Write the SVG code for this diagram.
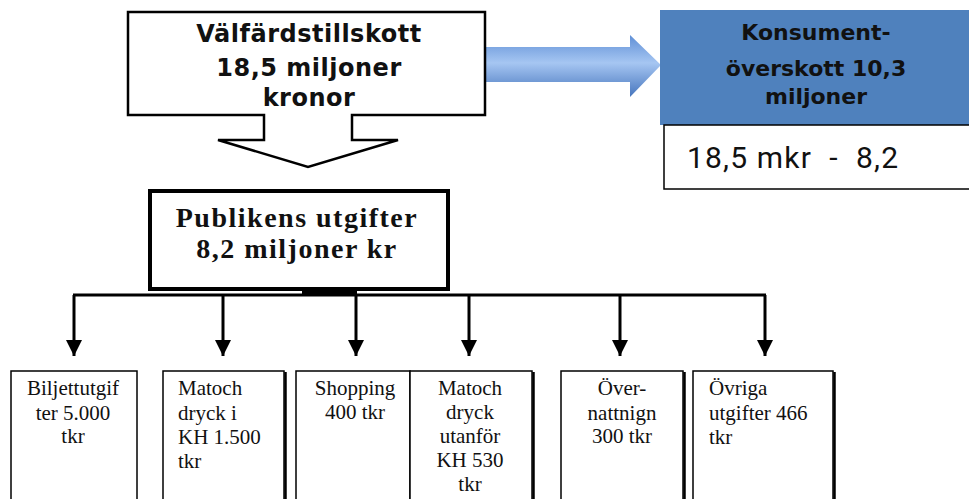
<svg xmlns="http://www.w3.org/2000/svg" width="969" height="499" viewBox="0 0 969 499">
<defs>
<linearGradient id="blueArrow" x1="0" y1="0" x2="0" y2="1">
<stop offset="0" stop-color="#5f8fd6"/>
<stop offset="0.45" stop-color="#a6c6f2"/>
<stop offset="1" stop-color="#4675bd"/>
</linearGradient>
<marker id="ah" markerUnits="userSpaceOnUse" markerWidth="16" markerHeight="16" viewBox="0 0 16 16" refX="8" refY="16" orient="0">
<path d="M0,0 L16,0 L8,16 Z" fill="#000"/>
</marker>
<style>
.sansb{font-family:"DejaVu Sans",Verdana,sans-serif;font-weight:bold;fill:#111;}
.serifb{font-family:"Liberation Serif","Times New Roman",serif;font-weight:bold;fill:#111;}
.serif{font-family:"Liberation Serif","Times New Roman",serif;font-size:21px;fill:#111;}
.box{fill:#fff;stroke:#000;stroke-width:1.5;}
.shadow{stroke:#000;stroke-width:2.5;}
.conn{stroke:#000;stroke-width:3;fill:none;}
</style>
</defs>

<g id="connectors">
<path class="conn" d="M73,295 H766"/>
<rect x="302" y="289" width="55" height="7" fill="#000"/>
<path class="conn" d="M74,295 V356" marker-end="url(#ah)"/>
<path class="conn" d="M223,295 V356" marker-end="url(#ah)"/>
<path class="conn" d="M356,295 V356" stroke-width="4" marker-end="url(#ah)"/>
<path class="conn" d="M469,295 V356" marker-end="url(#ah)"/>
<path class="conn" d="M620,295 V356" marker-end="url(#ah)"/>
<path class="conn" d="M765,295 V356" marker-end="url(#ah)"/>
<path d="M485,47 H630 V35 L661,65 L630,97 V82 H485 Z" fill="url(#blueArrow)"/>
</g>

<g id="valfard">
<path d="M128,12 H485 V115 H352 V140 H398 L308,167 L218,140 H264 V115 H128 Z" fill="#fff" stroke="#000" stroke-width="2.5" stroke-linejoin="miter"/>
<text class="sansb" font-size="24" text-anchor="middle" letter-spacing="0.5"><tspan x="309" y="42">Välfärdstillskott</tspan><tspan x="309" y="76">18,5 miljoner</tspan><tspan x="309" y="106">kronor</tspan></text>
</g>

<g id="konsument">
<rect x="660" y="10" width="309" height="115" fill="#4f81bd"/>
<text class="sansb" font-size="22" text-anchor="middle"><tspan x="816" y="40">Konsument-</tspan><tspan x="816" y="76">överskott 10,3</tspan><tspan x="816" y="104">miljoner</tspan></text>
<rect x="664" y="125" width="310" height="64" fill="#fff" stroke="#000" stroke-width="1.5"/>
<text x="687" y="168" font-family="Roboto,'Open Sans',sans-serif" font-size="30" fill="#111" xml:space="preserve" textLength="211" lengthAdjust="spacing">18,5 mkr  -  8,2</text>
</g>

<g id="publikens">
<rect x="150" y="191" width="298" height="98" fill="#fff" stroke="#000" stroke-width="4"/>
<text class="serifb" font-size="28" text-anchor="middle" letter-spacing="1.5"><tspan x="297" y="227">Publikens utgifter</tspan><tspan x="297" y="258">8,2 miljoner kr</tspan></text>
</g>

<g id="biljett">
<rect class="box" x="11" y="371" width="126" height="140"/>
<text class="serif" text-anchor="middle"><tspan x="73" y="395">Biljettutgif</tspan><tspan x="73" y="420">ter 5.000</tspan><tspan x="73" y="443">tkr</tspan></text>
</g>

<g id="matdryck-kh">
<rect class="box" x="163" y="371" width="121" height="140"/>
<path class="shadow" d="M285.5,372 V499"/>
<text class="serif"><tspan x="178" y="395">Matoch</tspan><tspan x="178" y="420">dryck i</tspan><tspan x="178" y="444">KH 1.500</tspan><tspan x="178" y="468">tkr</tspan></text>
</g>

<g id="shopping">
<rect class="box" x="296" y="371" width="114" height="140"/>
<text class="serif" text-anchor="middle"><tspan x="355" y="395">Shopping</tspan><tspan x="355" y="419">400 tkr</tspan></text>
</g>

<g id="matdryck-utanfor">
<rect class="box" x="410" y="371" width="122" height="140"/>
<path class="shadow" d="M533.5,372 V499"/>
<text class="serif" text-anchor="middle"><tspan x="470" y="395">Matoch</tspan><tspan x="470" y="419">dryck</tspan><tspan x="470" y="443">utanför</tspan><tspan x="470" y="467">KH 530</tspan><tspan x="470" y="491">tkr</tspan></text>
</g>

<g id="overnattning">
<rect class="box" x="561" y="371" width="122" height="140"/>
<path class="shadow" d="M684.5,372 V499"/>
<text class="serif" text-anchor="middle"><tspan x="622" y="395">Över-</tspan><tspan x="622" y="420">nattnign</tspan><tspan x="622" y="443">300 tkr</tspan></text>
</g>

<g id="ovriga">
<rect class="box" x="693" y="371" width="140" height="140"/>
<path class="shadow" d="M834.5,372 V499"/>
<text class="serif"><tspan x="709" y="395">Övriga</tspan><tspan x="709" y="420">utgifter 466</tspan><tspan x="709" y="444">tkr</tspan></text>
</g>
</svg>
